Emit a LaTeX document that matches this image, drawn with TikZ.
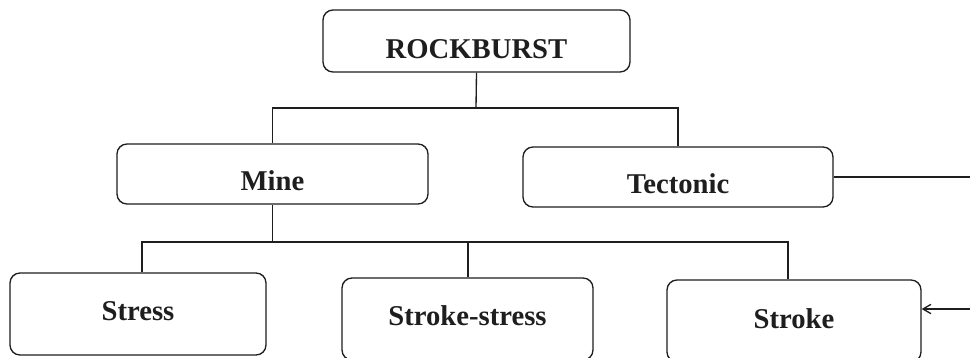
\documentclass[tikz,border=0pt]{standalone}
\usepackage{fontspec}
\setmainfont{Liberation Serif}
\usetikzlibrary{arrows.meta}
\definecolor{ink}{HTML}{1E1E1E}
\begin{document}
\begin{tikzpicture}[x=0.75pt,y=-0.75pt,
  bx/.style={draw=ink, line width=1pt, rounded corners=7.5pt, inner sep=0pt,
    font=\fontsize{21.5}{24}\selectfont\bfseries, text=ink, text depth=0pt},
  ln/.style={draw=ink, line width=1pt}]
\useasboundingbox (0,0) rectangle (970,357);
\fill[white] (0,0) rectangle (970,357);

\node[bx, minimum width={307*0.75pt}, minimum height={62*0.75pt}, text height=25.5pt] (rock) at (476.5,41) {ROCKBURST};
\node[bx, minimum width={311*0.75pt}, minimum height={60*0.75pt}, text height=24pt] (mine) at (272.5,174) {Mine};
\node[bx, minimum width={310*0.75pt}, minimum height={60*0.75pt}, text height=24pt] (tect) at (678,177) {Tectonic};
\node[bx, minimum width={256*0.75pt}, minimum height={82*0.75pt}, text height=9pt] (stress) at (138,314) {Stress};
\node[bx, minimum width={251*0.75pt}, minimum height={82*0.75pt}, text height=9pt] (sst) at (467.5,319) {Stroke-stress};
\node[bx, minimum width={254*0.75pt}, minimum height={82*0.75pt}, text height=10.5pt] (stroke) at (794,321) {Stroke};

\coordinate (j1) at (476,108);
\coordinate (j2) at (269,242);
\coordinate (a1) at (142,242);
\coordinate (a2) at (468,242);
\coordinate (a3) at (788,242);
\coordinate (r1) at (975,177);
\coordinate (r2) at (975,309);

\draw[ln] (rock.south) -- (j1);
\draw[ln] (mine.north) -- (mine.north |- j1) -- (tect.north |- j1) -- (tect.north);
\draw[ln] (mine.south) -- (mine.south |- j2);
\draw[ln] (a1 |- stress.north) -- (a1) -- (a3) -- (a3 |- stroke.north);
\draw[ln] (a2) -- (a2 |- sst.north);
\draw[ln] (tect.east) -- (r1) -- (r2);
\draw[ln, -{Straight Barb[length=6pt,width=7pt]}] (r2) -- (r2 -| stroke.east);
\end{tikzpicture}
\end{document}
